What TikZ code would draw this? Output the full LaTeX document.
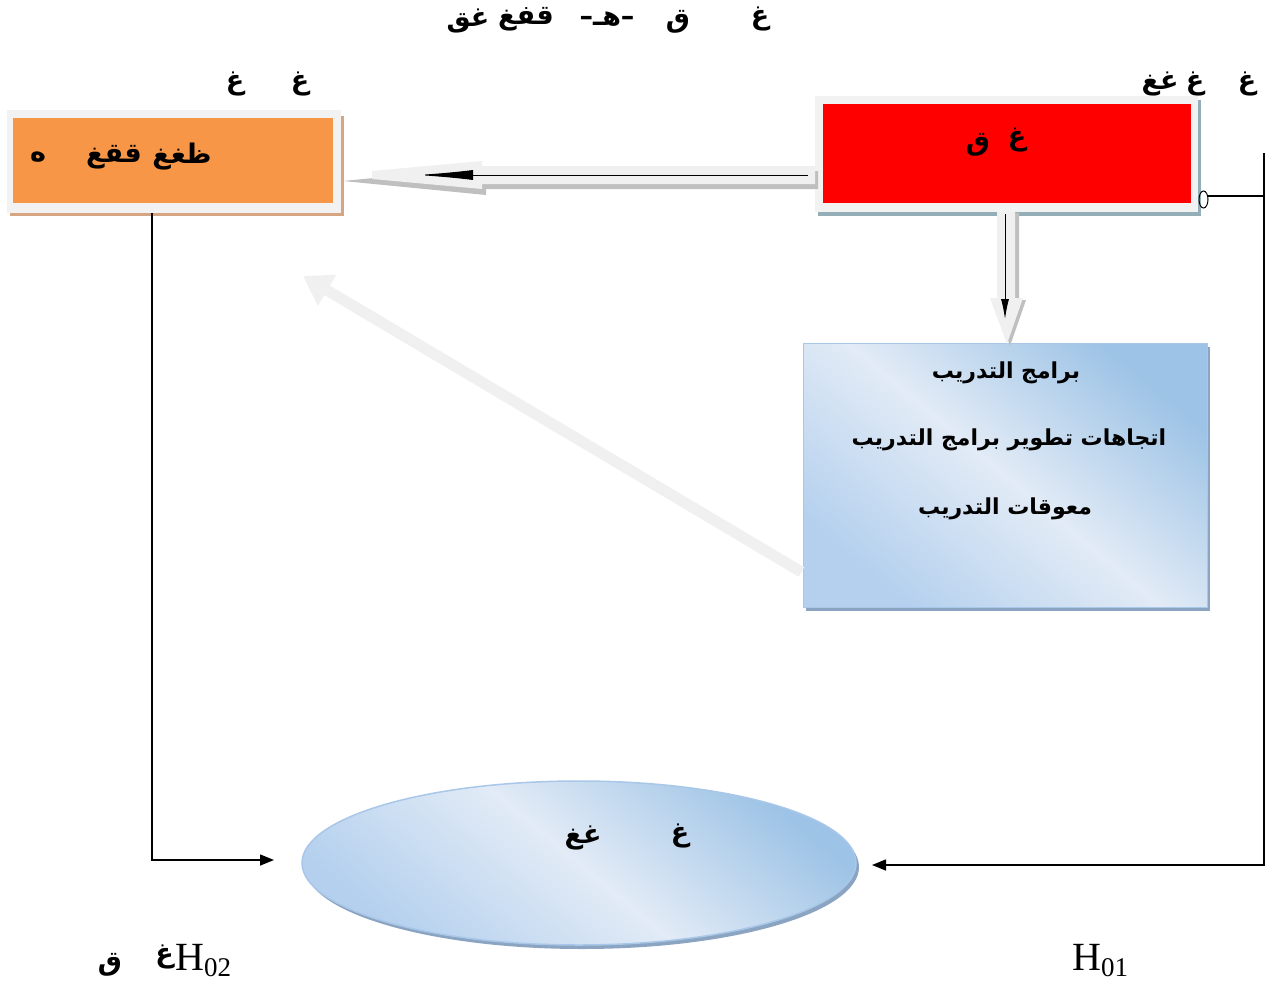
\documentclass[tikz,border=0pt]{standalone}
\usepackage{fontspec}
\usetikzlibrary{arrows.meta,shapes.geometric,calc}
\TeXXeTstate=1
\newfontfamily\arabicfont[Script=Arabic]{DejaVu Sans}
\newfontfamily\hfont{Liberation Serif}
\definecolor{orangefill}{HTML}{F79646}
\definecolor{framegray}{HTML}{F2F2F2}
\definecolor{tanshadow}{RGB}{214,166,130}
\definecolor{redshadow}{HTML}{94AEB8}
\definecolor{blueDark}{HTML}{9DC3E6}
\definecolor{blueMid}{HTML}{B4D0EE}
\definecolor{blueLight}{HTML}{E2EBF6}
\definecolor{blueBorder}{HTML}{A9C7E8}
\definecolor{blueShadow}{HTML}{8AA4C2}
\definecolor{arrowGray}{HTML}{F0F0F0}
\definecolor{arrowShadow}{HTML}{BFBFBF}
\begin{document}
\begin{tikzpicture}[x=1pt,y=-1pt,
  ar/.style={font={\arabicfont\bfseries\fontsize{27}{30}\selectfont}, inner sep=0pt},
  arbox/.style={font={\arabicfont\bfseries\fontsize{22}{26}\selectfont}, inner sep=0pt},
  hlabel/.style={font={\hfont\fontsize{40}{44}\selectfont}, inner sep=0pt},
  frame/.style={fill=framegray, draw=none, inner sep=0pt},
  boxfill/.style={draw=none, inner sep=0pt},
  conn/.style={draw=black, line width=1.5pt},
  thinarrow/.style={draw=black, line width=1pt}
]
\useasboundingbox (0,0) rectangle (1270,985);
\fill[white] (0,0) rectangle (1270,985);

% ---------- orange box ----------
\fill[tanshadow] (10,116) rectangle (344,216);
\node[frame, minimum width=334pt, minimum height=103pt] (oframe) at (174,161.5) {};
\node[boxfill, fill=orangefill, minimum width=320pt, minimum height=85pt] (orange) at (173,160.5) {};
\node[ar] (o1) at (182,157) {\beginR ظغغ\endR};
\node[ar] (o2) at (114,157) {\beginR ققغ\endR};
\node[ar] (o3) at (38,157) {\beginR ه\endR};

% ---------- red box ----------
\fill[redshadow] (818,100) rectangle (1201,216);
\node[frame, minimum width=383pt, minimum height=116pt] (rframe) at (1006.5,154) {};
\node[boxfill, fill=red, minimum width=368pt, minimum height=99pt] (red) at (1007,153.5) {};
\node[ar] (r1) at (1017,140) {\beginR غ\endR};
\node[ar] (r2) at (978,145) {\beginR ق\endR};

% ---------- blue box ----------
\fill[blueShadow] (806,347) rectangle (1210,611);
\node[draw=blueBorder, line width=1pt, left color=blueDark, right color=blueMid, middle color=blueLight, shading angle=-40, minimum width=404pt, minimum height=264pt, inner sep=0pt] (blue) at (1005,475) {};
\node[arbox] (b1) at (1006,373) {\beginR برامج التدريب\endR};
\node[arbox] (b2) at (1009,440) {\beginR اتجاهات تطوير برامج التدريب\endR};
\node[arbox] (b3) at (1005,509) {\beginR معوقات التدريب\endR};

% ---------- ellipse ----------
\fill[blueShadow] (582,867) ellipse [x radius=277, y radius=82];
\node[ellipse, draw=blueBorder, line width=1.5pt, left color=blueDark, right color=blueMid, middle color=blueLight, shading angle=-40, minimum width=554pt, minimum height=164pt, inner sep=0pt] (ell) at (579,863) {};
\node[ar] (e1) at (583,838) {\beginR غغ\endR};
\node[ar] (e2) at (680,836) {\beginR غ\endR};

% ---------- top labels ----------
\node[ar] (t1) at (760,19) {\beginR غ\endR};
\node[ar] (t2) at (678,22) {\beginR ق\endR};
\node[ar] (t3) at (607,19) {\beginR –هـ–\endR};
\node[ar] (t4) at (526,19) {\beginR قفغ\endR};
\node[ar] (t5) at (468,21) {\beginR غق\endR};
\node[ar] (l1) at (235,84) {\beginR غ\endR};
\node[ar] (l2) at (300,84) {\beginR غ\endR};
\node[ar] (g1) at (1160,84) {\beginR غغ\endR};
\node[ar] (g2) at (1195,84) {\beginR غ\endR};
\node[ar] (g3) at (1247,84) {\beginR غ\endR};

% ---------- horizontal block arrow (red -> orange) ----------
\fill[arrowShadow] (818,171) -- (486,171) -- (486,167) -- (343,181) -- (486,195) -- (486,189) -- (818,189) -- cycle;
\fill[arrowGray] (815,166) -- (482,166) -- (482,161) -- (372,171) -- (372,179) -- (482,189) -- (482,184) -- (815,184) -- cycle;
\coordinate (hs) at ($(rframe.west)+(-7,21)$);
\coordinate (he) at (417,175);
\draw[thinarrow, -{Latex[length=56pt,width=10pt]}] (hs) -- (he);

% ---------- vertical block arrow (red -> blue) ----------
\fill[arrowShadow] (1001,213) -- (1019,213) -- (1019,300) -- (1026,300) -- (1010,346) -- (994,300) -- (1001,300) -- cycle;
\fill[arrowGray] (997,212) -- (1015,212) -- (1015,298) -- (1023,298) -- (1007,344) -- (990,298) -- (997,298) -- cycle;
\coordinate (vs) at (1005,214);
\coordinate (ve) at (1005,319);
\draw[thinarrow, -{Latex[length=20pt,width=8pt]}] (vs) -- (ve);

% ---------- diagonal arrow (blue -> up-left) ----------
\coordinate (ds) at ($(blue.west)+(-1,97)$);
\coordinate (de) at (303,276);
\draw[arrowGray, line width=11pt, -{Triangle[length=28pt,width=34pt]}] (ds) -- (de);

% ---------- left connector (orange -> ellipse) ----------
\coordinate (lx) at (152,0);
\coordinate (lbend) at (152,860);
\coordinate (lend) at (274,860);
\draw[conn, -{Triangle[length=14pt,width=11pt]}] (oframe.south -| lx) -- (lbend) -- (lend);

% ---------- right connector (-> ellipse) ----------
\coordinate (rtop) at (1264,153);
\coordinate (rbend) at (1264,865);
\coordinate (rend) at (872,865);
\draw[conn, -{Triangle[length=14pt,width=11pt]}] (rtop) -- (rbend) -- (rend);
\coordinate (stubs) at (1208,196);
\coordinate (stube) at (1264,196);
\draw[conn] (stubs) -- (stube);
\draw[line width=1pt] (1203.5,199.5) ellipse [x radius=4.5, y radius=8.5];

% ---------- bottom labels ----------
\node[ar] (q1) at (110,965) {\beginR ق\endR};
\node[ar, anchor=east] (q2) at (174,957) {\beginR غ\endR};
\node[hlabel, anchor=base west] (h2) at (175,970) {H\raisebox{-6pt}{\fontsize{27}{27}\selectfont 02}};
\node[hlabel, anchor=base west] (h1) at (1072,970) {H\raisebox{-6pt}{\fontsize{27}{27}\selectfont 01}};
\end{tikzpicture}
\end{document}
